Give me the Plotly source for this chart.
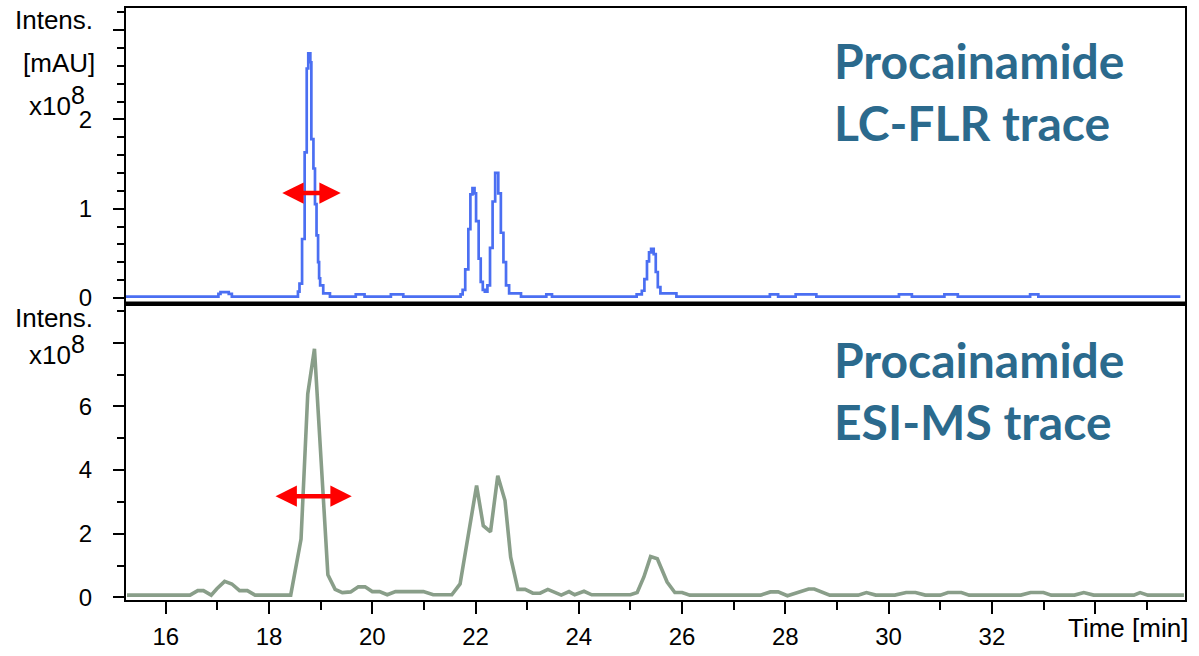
import plotly.graph_objects as go

# ---------------- data ----------------
# LC-FLR trace (top panel), step-like signal, units x10^8
flr_time = [15.23, 17.02, 17.06, 17.22, 17.28, 18.56, 18.59, 18.64, 18.69, 18.73,
            18.76, 18.80, 18.82, 18.86, 18.89, 18.92, 18.95, 18.97, 18.99, 19.05,
            19.18, 19.68, 19.85, 20.36, 20.60, 21.71, 21.75, 21.80, 21.86, 21.90,
            21.94, 21.98, 22.01, 22.06, 22.10, 22.14, 22.18, 22.23, 22.28, 22.33,
            22.38, 22.44, 22.49, 22.54, 22.59, 22.65, 22.88, 23.37, 23.48, 25.12,
            25.22, 25.27, 25.32, 25.36, 25.40, 25.45, 25.49, 25.53, 25.58, 25.89,
            27.70, 27.86, 28.20, 28.60, 30.20, 30.45, 31.08, 31.34, 32.74, 32.90,
            35.65]
flr_signal = [0.015, 0.045, 0.065, 0.045, 0.015, 0.07, 0.16, 0.66, 1.63, 2.57,
              2.74, 2.64, 1.78, 1.45, 1.05, 0.70, 0.40, 0.22, 0.14, 0.05,
              0.015, 0.04, 0.015, 0.04, 0.015, 0.04, 0.09, 0.32, 0.77, 1.16,
              1.23, 1.17, 0.86, 0.44, 0.18, 0.09, 0.07, 0.14, 0.56, 1.08,
              1.40, 1.17, 0.73, 0.40, 0.14, 0.05, 0.015, 0.04, 0.015, 0.04,
              0.08, 0.21, 0.41, 0.51, 0.55, 0.49, 0.29, 0.12, 0.05, 0.015,
              0.04, 0.015, 0.04, 0.015, 0.04, 0.015, 0.04, 0.015, 0.04, 0.015,
              0.015]

# ESI-MS trace (bottom panel), units x10^8
ms_time = [15.25, 16.47, 16.62, 16.73, 16.88, 16.99, 17.14, 17.28, 17.43, 17.58,
           17.73, 18.42, 18.62, 18.75, 18.88, 19.14, 19.28, 19.42, 19.58, 19.73,
           19.86, 20.00, 20.14, 20.29, 20.45, 20.99, 21.18, 21.54, 21.70, 22.02,
           22.15, 22.29, 22.43, 22.57, 22.68, 22.82, 22.96, 23.11, 23.25, 23.40,
           23.66, 23.81, 23.92, 24.10, 24.25, 25.00, 25.13, 25.26, 25.39, 25.52,
           25.71, 25.86, 26.00, 26.15, 27.52, 27.71, 27.86, 28.04, 28.45, 28.56,
           28.86, 29.41, 29.57, 29.75, 30.12, 30.34, 30.52, 30.71, 31.00, 31.15,
           31.41, 31.56, 32.56, 32.75, 33.00, 33.15, 33.60, 33.78, 33.97, 34.75,
           34.87, 35.02, 35.72]
ms_signal = [0.07, 0.07, 0.21, 0.21, 0.07, 0.27, 0.50, 0.42, 0.21, 0.21,
             0.07, 0.07, 1.83, 6.39, 7.81, 0.71, 0.25, 0.15, 0.17, 0.33,
             0.33, 0.18, 0.18, 0.08, 0.18, 0.18, 0.08, 0.08, 0.42, 3.51,
             2.25, 2.06, 3.82, 3.04, 1.26, 0.25, 0.25, 0.13, 0.13, 0.25,
             0.07, 0.18, 0.08, 0.19, 0.08, 0.08, 0.15, 0.64, 1.28, 1.21,
             0.48, 0.15, 0.15, 0.07, 0.07, 0.17, 0.17, 0.05, 0.26, 0.26,
             0.07, 0.07, 0.15, 0.07, 0.07, 0.15, 0.15, 0.07, 0.07, 0.15,
             0.15, 0.07, 0.07, 0.15, 0.15, 0.07, 0.07, 0.15, 0.07, 0.07,
             0.15, 0.07, 0.07]

# Axis ticks
x_major = [16, 18, 20, 22, 24, 26, 28, 30, 32, 34]
x_labels = ["16", "18", "20", "22", "24", "26", "28", "30", "32", ""]
x_minor = [15, 17, 19, 21, 23, 25, 27, 29, 31, 33, 35]
top_major = [0, 1, 2, 3]
top_labels = ["0", "1", "2", ""]
bot_major = [0, 2, 4, 6, 8]
bot_labels = ["0", "2", "4", "6", ""]

# Peak-width arrows (time start, time end, level)
flr_arrow = [18.227, 19.389, 1.174]
ms_arrow = [18.097, 19.602, 3.18]

# ---------------- figure ----------------
BLUE = "#4b6ff2"
GREEN = "#899e89"
TEXTBLUE = "#2b6a8d"
TICKFONT = dict(family="Liberation Sans, Arial, sans-serif", size=24, color="black")
SPLIT = 0.5008

fig = go.Figure()
fig.add_trace(go.Scatter(x=flr_time, y=flr_signal, mode="lines",
                         line=dict(color=BLUE, width=2.7, shape="hv"),
                         xaxis="x2", yaxis="y2", showlegend=False, hoverinfo="skip"))
fig.add_trace(go.Scatter(x=ms_time, y=ms_signal, mode="lines",
                         line=dict(color=GREEN, width=3.6),
                         xaxis="x", yaxis="y", showlegend=False, hoverinfo="skip"))

axis_common = dict(showline=True, linecolor="black", linewidth=2, mirror=True,
                   showgrid=False, zeroline=False, tickcolor="black", tickwidth=2,
                   tickfont=TICKFONT)

fig.update_layout(
    width=1199, height=656,
    margin=dict(l=126, r=14, t=6, b=51),
    paper_bgcolor="white", plot_bgcolor="white",
    xaxis=dict(domain=[0, 1], range=[15.23, 35.74], anchor="y",
               ticks="outside", tickmode="array", tickvals=x_major, ticktext=x_labels,
               ticklen=12, ticklabelstandoff=2,
               minor=dict(tickmode="array", tickvals=x_minor, ticks="outside",
                          ticklen=8, tickwidth=2, tickcolor="black"),
               **axis_common),
    xaxis2=dict(domain=[0, 1], range=[15.23, 35.74], anchor="y2", matches="x",
                showticklabels=False, ticks="", **axis_common),
    yaxis=dict(domain=[0, SPLIT], range=[-0.084, 9.233], anchor="x",
               ticks="outside", tickmode="array", tickvals=bot_major, ticktext=bot_labels,
               ticklen=11, ticklabelstandoff=16,
               minor=dict(dtick=1, tick0=0, ticks="outside", ticklen=7,
                          tickwidth=2, tickcolor="black"),
               **axis_common),
    yaxis2=dict(domain=[SPLIT, 1], range=[-0.063, 3.248], anchor="x2",
                ticks="outside", tickmode="array", tickvals=top_major, ticktext=top_labels,
                ticklen=11, ticklabelstandoff=16,
                minor=dict(dtick=0.2, tick0=0, ticks="outside", ticklen=7,
                           tickwidth=2, tickcolor="black"),
                **axis_common),
)

# thick separator between panels
fig.add_shape(type="line", xref="paper", yref="paper", x0=0, x1=1, y0=SPLIT, y1=SPLIT,
              line=dict(color="black", width=4))

# red double arrows
for xr, yr, arr in (("x2", "y2", flr_arrow), ("x", "y", ms_arrow)):
    fig.add_annotation(x=arr[1], y=arr[2], ax=arr[0], ay=arr[2], xref=xr, yref=yr,
                       axref=xr, ayref=yr, text="", showarrow=True,
                       arrowside="end+start", arrowhead=2, arrowsize=0.95,
                       arrowwidth=4.5, arrowcolor="#ff0000", standoff=0, startstandoff=0)

ANNFONT = dict(family="Liberation Sans, Arial, sans-serif", size=26, color="black")
EXP = "x10<sup><span style='font-size:25px'>8</span></sup>"
labels = [
    ("Intens.", -0.0293, 0.980),
    ("[mAU]", -0.0274, 0.9065),
    (EXP, -0.0368, 0.843),
    ("Intens.", -0.0293, 0.4770),
    (EXP, -0.0368, 0.4224),
]
for txt, xp, yp in labels:
    fig.add_annotation(text=txt, x=xp, y=yp, xref="paper", yref="paper",
                       xanchor="right", yanchor="middle", showarrow=False, font=ANNFONT)

fig.add_annotation(text="Time [min]", x=1.0047, y=-0.048, xref="paper", yref="paper",
                   xanchor="right", yanchor="middle", showarrow=False, font=ANNFONT)

TITLEFONT = dict(family="Lato, Open Sans, sans-serif", size=48, color=TEXTBLUE, weight="bold")
titles = [
    ("Procainamide", 0.912),
    ("LC-FLR trace", 0.807),
    ("Procainamide", 0.406),
    ("ESI-MS trace", 0.301),
]
for txt, yp in titles:
    fig.add_annotation(text="<b>%s</b>" % txt, x=0.6667, y=yp, xref="paper", yref="paper",
                       xanchor="left", yanchor="middle", showarrow=False, font=TITLEFONT)

fig.write_html("out.html")
